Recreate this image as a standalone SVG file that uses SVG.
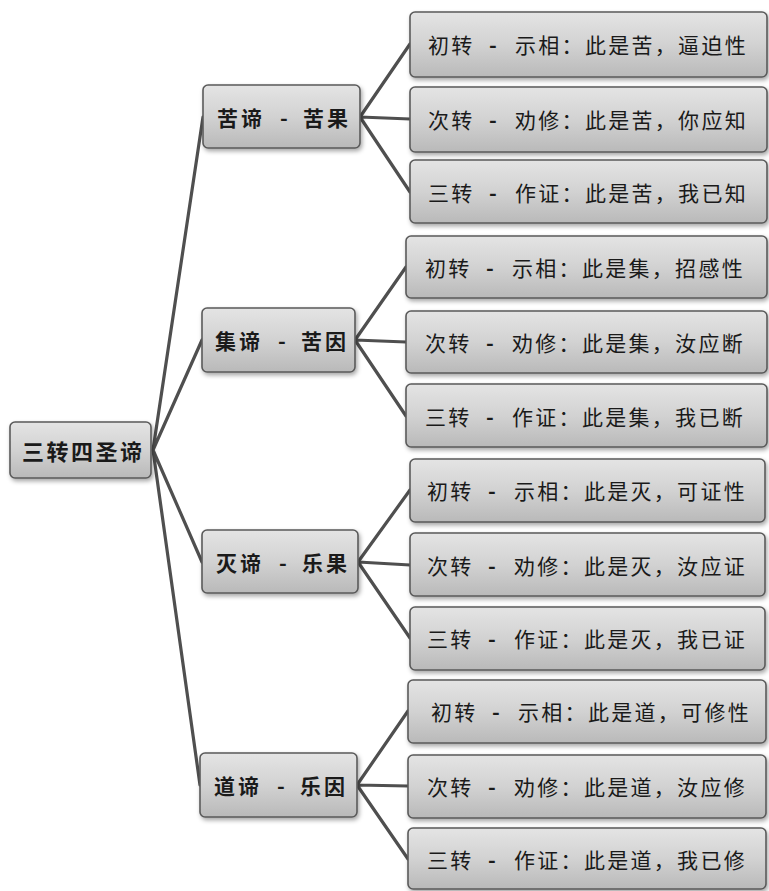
<svg xmlns="http://www.w3.org/2000/svg" width="769" height="891" viewBox="0 0 769 891">
<defs>
<linearGradient id="g" x1="0" y1="0" x2="0" y2="1">
<stop offset="0" stop-color="#e4e4e4"/>
<stop offset="0.5" stop-color="#d2d2d2"/>
<stop offset="1" stop-color="#b9b9b9"/>
</linearGradient>
<filter id="sh" x="-10%" y="-20%" width="125%" height="150%">
<feDropShadow dx="1.5" dy="2.5" stdDeviation="2" flood-color="#000" flood-opacity="0.35"/>
</filter>
</defs>
<style>
.box{fill:url(#g);stroke:#5a5a5a;stroke-width:1.6;filter:url(#sh)}
.t{font-family:"Noto Sans CJK SC","Noto Sans CJK TC",sans-serif;fill:#1a1a1a;dominant-baseline:central}
.leaf{font-size:21px;letter-spacing:2.3px}
.mid{font-size:21px;font-weight:bold;letter-spacing:3px}
.root{font-size:22px;font-weight:bold;letter-spacing:2.5px}
.d{font-weight:bold}
.c{fill:none;stroke:#4f4f4f;stroke-width:3.2;stroke-linecap:round}
</style>
<rect width="769" height="891" fill="#ffffff"/>
<g id="connectors">
<path class="c" d="M153 450 L203 117 M153 450 L202 340 M153 450 L202 562 M153 450 L200 785"/>
<path class="c" d="M360 117 L410 44 M360 117 L410 119 M360 117 L410 192"/>
<path class="c" d="M355 340 L406 267 M355 340 L406 342 M355 340 L406 416"/>
<path class="c" d="M358 562 L410 490 M358 562 L410 565 M358 562 L410 638"/>
<path class="c" d="M357 785 L408 711 M357 785 L408 786 M357 785 L408 859"/>
</g>
<g id="root"><rect class="box" x="10" y="422" width="141" height="56" rx="5"/><text class="t root" x="22" y="450">三转四圣谛</text></g>
<g id="n1"><rect class="box" x="203" y="85" width="157" height="63" rx="5"/><text class="t mid" x="217" y="117">苦谛<tspan x="280">-</tspan><tspan x="303">苦果</tspan></text></g>
<g id="n2"><rect class="box" x="202" y="308" width="153" height="64" rx="5"/><text class="t mid" x="215" y="340">集谛<tspan x="278">-</tspan><tspan x="301">苦因</tspan></text></g>
<g id="n3"><rect class="box" x="202" y="530" width="156" height="63" rx="5"/><text class="t mid" x="216" y="562">灭谛<tspan x="279">-</tspan><tspan x="302">乐果</tspan></text></g>
<g id="n4"><rect class="box" x="200" y="753" width="157" height="64" rx="5"/><text class="t mid" x="214" y="785">道谛<tspan x="277">-</tspan><tspan x="300">乐因</tspan></text></g>
<g id="l11"><rect class="box" x="410" y="12" width="357" height="65" rx="5"/><text class="t leaf" x="428" y="44">初转<tspan class="d" x="489">-</tspan><tspan x="515">示相：此是苦，逼迫性</tspan></text></g>
<g id="l12"><rect class="box" x="410" y="87" width="357" height="65" rx="5"/><text class="t leaf" x="428" y="119">次转<tspan class="d" x="489">-</tspan><tspan x="515">劝修：此是苦，你应知</tspan></text></g>
<g id="l13"><rect class="box" x="410" y="160" width="357" height="63" rx="5"/><text class="t leaf" x="428" y="192">三转<tspan class="d" x="489">-</tspan><tspan x="515">作证：此是苦，我已知</tspan></text></g>
<g id="l21"><rect class="box" x="406" y="236" width="361" height="62" rx="5"/><text class="t leaf" x="425" y="267">初转<tspan class="d" x="486">-</tspan><tspan x="512">示相：此是集，招感性</tspan></text></g>
<g id="l22"><rect class="box" x="406" y="311" width="361" height="62" rx="5"/><text class="t leaf" x="425" y="342">次转<tspan class="d" x="486">-</tspan><tspan x="512">劝修：此是集，汝应断</tspan></text></g>
<g id="l23"><rect class="box" x="406" y="384" width="361" height="63" rx="5"/><text class="t leaf" x="425" y="416">三转<tspan class="d" x="486">-</tspan><tspan x="512">作证：此是集，我已断</tspan></text></g>
<g id="l31"><rect class="box" x="410" y="459" width="355" height="63" rx="5"/><text class="t leaf" x="427" y="490">初转<tspan class="d" x="488">-</tspan><tspan x="514">示相：此是灭，可证性</tspan></text></g>
<g id="l32"><rect class="box" x="410" y="533" width="355" height="63" rx="5"/><text class="t leaf" x="427" y="565">次转<tspan class="d" x="488">-</tspan><tspan x="514">劝修：此是灭，汝应证</tspan></text></g>
<g id="l33"><rect class="box" x="410" y="607" width="355" height="63" rx="5"/><text class="t leaf" x="427" y="638">三转<tspan class="d" x="488">-</tspan><tspan x="514">作证：此是灭，我已证</tspan></text></g>
<g id="l41"><rect class="box" x="408" y="680" width="358" height="63" rx="5"/><text class="t leaf" x="431" y="711">初转<tspan class="d" x="492">-</tspan><tspan x="518">示相：此是道，可修性</tspan></text></g>
<g id="l42"><rect class="box" x="408" y="755" width="358" height="63" rx="5"/><text class="t leaf" x="427" y="786">次转<tspan class="d" x="488">-</tspan><tspan x="514">劝修：此是道，汝应修</tspan></text></g>
<g id="l43"><rect class="box" x="408" y="828" width="358" height="61" rx="5"/><text class="t leaf" x="427" y="859">三转<tspan class="d" x="488">-</tspan><tspan x="514">作证：此是道，我已修</tspan></text></g>
</svg>
